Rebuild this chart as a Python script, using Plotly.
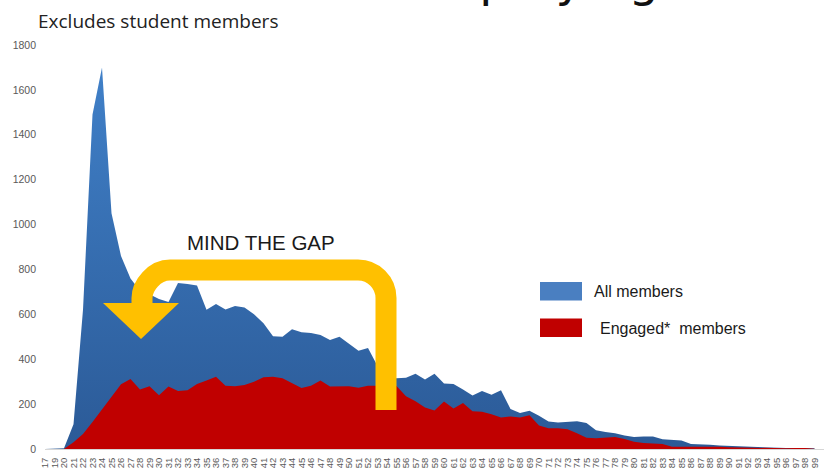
import plotly.graph_objects as go

# Member counts by age
ages = ["17", "19", "20", "21", "22", "23", "24", "25", "26", "27", "28", "29",
        "30", "31", "32", "33", "34", "35", "36", "37", "38", "39", "40", "41",
        "42", "43", "44", "45", "46", "47", "48", "49", "50", "51", "52", "53",
        "54", "55", "56", "57", "58", "59", "60", "61", "62", "63", "64", "65",
        "66", "67", "68", "69", "70", "71", "72", "73", "74", "75", "76", "77",
        "78", "79", "80", "81", "82", "83", "84", "85", "86", "87", "88", "89",
        "90", "91", "92", "93", "94", "95", "96", "97", "98", "99"]

all_members = [0, 0, 3, 110, 620, 1490, 1700, 1050, 860, 760, 705, 690,
               668, 655, 740, 735, 728, 620, 646, 622, 637, 630, 600, 560,
               502, 500, 533, 520, 517, 508, 486, 500, 470, 438, 450, 370,
               320, 315, 318, 335, 310, 335, 292, 290, 265, 238, 258, 242,
               262, 178, 160, 170, 148, 122, 118, 122, 124, 116, 84, 76,
               70, 60, 53, 56, 56, 43, 40, 38, 22, 22, 19, 16,
               14, 12, 10, 8, 5, 3, 4, 4, 3, 3]

engaged_members = [0, 0, 0, 30, 67, 120, 175, 228, 288, 312, 265, 280,
                   240, 278, 258, 262, 290, 305, 322, 282, 280, 285, 300, 320,
                   322, 315, 292, 272, 282, 305, 278, 278, 280, 273, 282, 282,
                   282, 281, 235, 213, 185, 172, 212, 180, 205, 168, 166, 155,
                   140, 145, 140, 150, 105, 92, 92, 88, 70, 50, 48, 50,
                   53, 45, 32, 27, 25, 22, 10, 10, 11, 13, 11, 10,
                   8, 7, 6, 4, 4, 3, 3, 5, 5, 1]

y_ticks = [0, 200, 400, 600, 800, 1000, 1200, 1400, 1600, 1800]

W, H = 838, 468
L, R, T, B = 45, 14, 45, 19


def px(x):
    return (x - L) / (W - L - R)


def py(y):
    return (H - B - y) / (H - T - B)


fig = go.Figure()

fig.add_trace(go.Scatter(
    x=ages, y=all_members, name="All members",
    mode="lines", line=dict(width=0), fill="tozeroy",
    fillgradient=dict(type="vertical",
                      colorscale=[[0, "#2b5a97"], [1, "#4080c8"]],
                      start=0, stop=1700),
    hoverinfo="x+y",
))
fig.add_trace(go.Scatter(
    x=ages, y=engaged_members, name="Engaged* members",
    mode="lines", line=dict(width=0), fill="tozeroy",
    fillcolor="#c00000",
    hoverinfo="x+y",
))

# "Mind the gap" bent arrow
r = 28
k = 0.5523 * r
band = (f"M {px(386)},{py(410)} L {px(386)},{py(298)} "
        f"C {px(386)},{py(298 - k)} {px(358 + k)},{py(270)} {px(358)},{py(270)} "
        f"L {px(170)},{py(270)} "
        f"C {px(170 - k)},{py(270)} {px(142)},{py(270 + k)} {px(142)},{py(298)} "
        f"L {px(142)},{py(306)}")
head = (f"M {px(103)},{py(303)} L {px(179)},{py(303)} "
        f"L {px(141)},{py(339)} Z")

shapes = [
    dict(type="path", xref="paper", yref="paper", path=band,
         line=dict(color="#ffc000", width=21), layer="above"),
    dict(type="path", xref="paper", yref="paper", path=head,
         fillcolor="#ffc000", line=dict(width=0), layer="above"),
    # legend swatches
    dict(type="rect", xref="paper", yref="paper",
         x0=px(540), x1=px(582), y0=py(300.5), y1=py(282),
         fillcolor="#4a7fc1", line=dict(width=0)),
    dict(type="rect", xref="paper", yref="paper",
         x0=px(540), x1=px(582), y0=py(337), y1=py(318.5),
         fillcolor="#c00000", line=dict(width=0)),
]

annotations = [
    dict(text="Membership by age", xref="paper", yref="paper",
         x=px(211), y=py(9), xanchor="left", yanchor="bottom",
         showarrow=False, font=dict(family="DejaVu Sans", size=48, color="#111111")),
    dict(text="Excludes student members", xref="paper", yref="paper",
         x=px(36), y=py(21), xanchor="left", yanchor="middle",
         showarrow=False, font=dict(family="Open Sans", size=19, color="#222222")),
    dict(text="MIND THE GAP", xref="paper", yref="paper",
         x=px(260.5), y=py(242), xanchor="center", yanchor="middle",
         showarrow=False, font=dict(family="Liberation Sans", size=20.5, color="#1a1a1a")),
    dict(text="All members", xref="paper", yref="paper",
         x=px(592), y=py(291), xanchor="left", yanchor="middle",
         showarrow=False, font=dict(family="Liberation Sans", size=16, color="#1a1a1a")),
    dict(text="Engaged*\u00a0 members", xref="paper", yref="paper",
         x=px(598), y=py(328), xanchor="left", yanchor="middle",
         showarrow=False, font=dict(family="Liberation Sans", size=16, color="#1a1a1a")),
]

fig.update_layout(
    width=W, height=H,
    margin=dict(l=L, r=R, t=T, b=B, autoexpand=False),
    paper_bgcolor="white", plot_bgcolor="white",
    showlegend=False,
    shapes=shapes, annotations=annotations,
    xaxis=dict(type="category", range=[0, 82],
               tickmode="array", tickvals=ages, ticktext=ages,
               tickangle=-90, tickfont=dict(family="Liberation Sans", size=9.5, color="#595959"),
               showgrid=False, zeroline=False,
               showline=True, linecolor="#d6d6d6", linewidth=1,
               ticks="outside", ticklen=4, tickcolor="rgba(0,0,0,0)",
               automargin=False),
    yaxis=dict(range=[0, 1800], tickmode="array", tickvals=y_ticks,
               tickfont=dict(family="Liberation Sans", size=10.5, color="#595959"),
               showgrid=False, zeroline=False, showline=False,
               ticks="", ticklabelstandoff=8, automargin=False),
)

fig.write_html("out.html")
